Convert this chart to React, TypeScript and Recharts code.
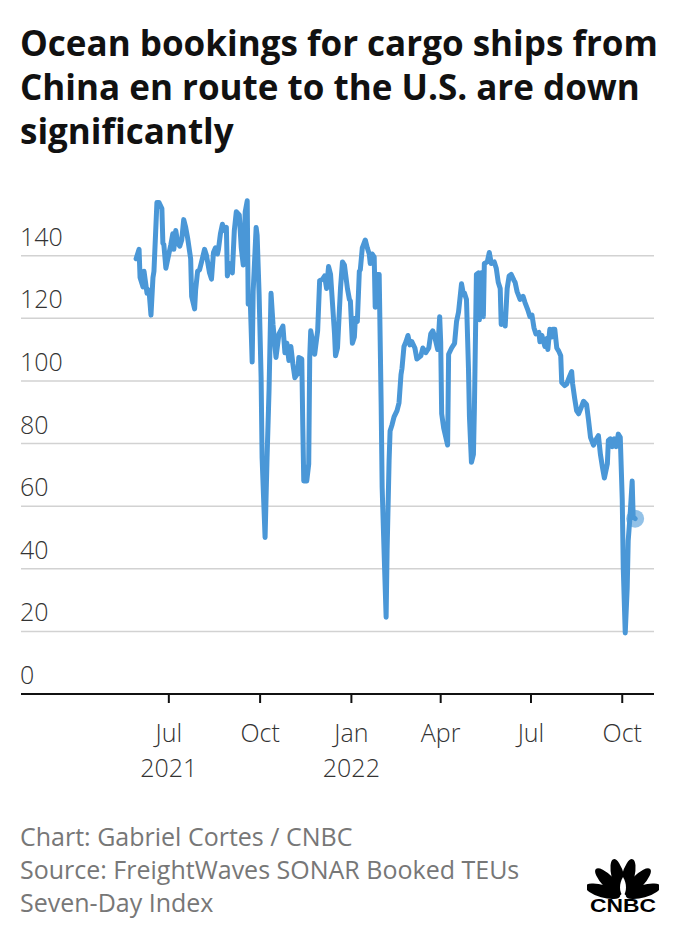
import { LineChart, Line, XAxis, YAxis, CartesianGrid } from "recharts";

// Booked TEUs seven-day index, China -> U.S.
const START = Date.UTC(2021, 0, 1);
const DAY = 86400000;

// days since 2021-01-01
const bookingDays = [
  148, 151, 152, 155, 156, 159, 161, 163, 165, 166,
  169, 171, 174, 175, 176, 178, 180, 183, 185, 186,
  188, 190, 192, 194, 196, 198, 200, 203, 204, 207,
  208, 210, 212, 214, 217, 219, 222, 224, 226, 228,
  230, 231, 233, 235, 237, 239, 240, 242, 245, 247,
  249, 252, 254, 256, 258, 260, 261, 263, 265, 266,
  269, 270, 272, 274, 275, 278, 280, 282, 284, 286,
  289, 292, 296, 298, 300, 302, 304, 306, 308, 311,
  312, 315, 316, 317, 320, 322, 323, 324, 326, 328,
  331, 333, 336, 338, 340, 342, 344, 346, 348, 349,
  351, 354, 356, 358, 361, 363, 364, 366, 368, 369,
  371, 373, 374, 376, 379, 381, 383, 384, 386, 388,
  389, 391, 393, 395, 396, 398, 400, 401, 403, 404,
  406, 408, 411, 413, 415, 416, 418, 420, 422, 424,
  426, 429, 431, 435, 437, 440, 443, 445, 447, 449,
  452, 454, 455, 456, 458, 462, 463, 466, 469, 471,
  473, 476, 478, 479, 481, 483, 484, 486, 488, 489,
  491, 493, 494, 496, 498, 499, 502, 504, 506, 509,
  511, 513, 515, 516, 519, 520, 522, 524, 526, 529,
  530, 532, 535, 538, 540, 543, 545, 547, 549, 551,
  554, 555, 557, 560, 562, 563, 565, 567, 568, 570,
  572, 574, 576, 577, 580, 582, 585, 587, 588, 590,
  592, 594, 596, 599, 602, 604, 606, 609, 612, 614,
  616, 618, 620, 623, 624, 626, 628, 630, 632, 634,
  636, 638, 639, 641, 643, 644, 646, 648, 649, 651,
];

const bookingIndex = [
  139, 142, 133, 130, 135, 128, 129, 121, 133, 135,
  157, 157, 155, 144, 143.5, 136, 139, 143.5, 147, 142,
  148, 144, 143, 145, 151.5, 149, 145.5, 139, 127, 123,
  129, 135, 135.5, 138, 142, 140, 134.5, 132.5, 141, 142.5,
  140.5, 142, 147, 150, 148, 149, 133.5, 137.5, 134.5, 148,
  154, 153, 142.5, 137, 154, 157.5, 124.5, 126.5, 106, 128.5,
  149, 146.5, 127.5, 101, 75.5, 50, 75.5, 97, 128, 118,
  107.5, 115, 117.5, 109, 112, 106.5, 111, 105.5, 101, 102.5,
  107.5, 107, 86, 68, 68, 73.5, 107.5, 116, 112.5, 108.5,
  116, 132, 132.5, 133.5, 129.5, 136.5, 134, 124.5, 115, 108,
  110.5, 129.5, 138, 137, 129.5, 126, 125.5, 112, 114, 120,
  119, 135, 135.5, 142.5, 145, 142.5, 140.5, 137.5, 140.5, 139.5,
  123.5, 134, 134, 92.5, 66, 45, 24.5, 46, 74.5, 84,
  86, 88.5, 90.5, 93, 102, 104, 111, 112.5, 114.5, 111.5,
  112.5, 110.5, 107, 108, 110.5, 109, 110.5, 115, 116, 114,
  110, 120.5, 112.5, 89.5, 85, 79.5, 108.5, 110.5, 112, 119,
  122, 131, 127.5, 128, 126, 104, 88.5, 74, 76.5, 91.5,
  134, 134.5, 119.5, 134.5, 120.5, 137.5, 138, 141, 137.5, 138,
  136, 131.5, 129.5, 118, 119, 117.5, 129.5, 133.5, 134, 132,
  131.5, 128.5, 126, 127, 125, 122.5, 120.5, 121, 117, 115,
  115.5, 112.5, 114.5, 111, 113.5, 110, 116.5, 114, 116.5, 116.5,
  110.5, 109.5, 108, 99.5, 98.5, 99, 101.5, 103, 99, 94.5,
  90.5, 89.5, 91, 93.5, 92.5, 87.5, 82, 79.5, 81.5, 82.5,
  76.5, 72.5, 69, 73.5, 81, 81.5, 79, 81.5, 79, 83,
  82, 62, 40.5, 19.5, 34, 49, 57.5, 68, 56.5, 56,
];

const yTicks = [0, 20, 40, 60, 80, 100, 120, 140];
const xTickDays = [181, 273, 365, 455, 546, 638];
const xTickMonths = ["Jul", "Oct", "Jan", "Apr", "Jul", "Oct"];
const xTickYears = ["2021", "", "2022", "", "", ""];

const titleLines = [
  "Ocean bookings for cargo ships from",
  "China en route to the U.S. are down",
  "significantly",
];
const footerLines = [
  "Chart: Gabriel Cortes / CNBC",
  "Source: FreightWaves SONAR Booked TEUs",
  "Seven-Day Index",
];

const data = bookingDays.map((d, i) => ({ t: START + d * DAY, value: bookingIndex[i] }));

const BLUE = "#4a97d7";
const FONT = "'Open Sans', Roboto, sans-serif";
const LEFT = 20;

const YTick = (props: any) => {
  const { y, payload } = props;
  return (
    <text x={LEFT} y={y - 10} fill="#333" fontSize={25} fontFamily={FONT} fontWeight={300} textAnchor="start">
      {payload.value}
    </text>
  );
};

const XTick = (props: any) => {
  const { x, y, payload } = props;
  const i = xTickDays.indexOf(Math.round((payload.value - START) / DAY));
  return (
    <g>
      <text x={x} y={y + 37} fill="#333" fontSize={25} fontFamily={FONT} fontWeight={300} textAnchor="middle">
        {xTickMonths[i]}
      </text>
      {xTickYears[i] && (
        <text x={x} y={y + 72} fill="#333" fontSize={25} fontFamily={FONT} fontWeight={300} textAnchor="middle">
          {xTickYears[i]}
        </text>
      )}
    </g>
  );
};

const EndDot = (props: any) => {
  if (props.index !== data.length - 1) return <g key={`d${props.index}`} />;
  return <circle key="end" cx={props.cx} cy={props.cy} r={9} fill={BLUE} fillOpacity={0.6} />;
};

const CnbcLogo = () => {
  const angles = [-74, -44, -14, 14, 44, 74];
  return (
    <svg width={72} height={72} viewBox="0 0 72 72">
      {angles.map((a) => (
        <ellipse key={a} cx={36} cy={25} rx={6.3} ry={18} fill="#000" transform={`rotate(${a} 36 46)`} />
      ))}
      <path d="M36 26 C32 33 32 40 36 46 C40 40 40 33 36 26 Z" fill="#fff" />
      <text x={36} y={61} textAnchor="middle" fontFamily="'Liberation Sans', Arial, sans-serif" fontWeight={700} fontSize={18} textLength={66} lengthAdjust="spacingAndGlyphs" fill="#000">
        CNBC
      </text>
    </svg>
  );
};

export default function App() {
  return (
    <div style={{ position: "absolute", left: 0, top: 0, width: 676, height: 940, background: "#fff", fontFamily: FONT }}>
      <div style={{ position: "absolute", left: 20, top: 21, fontSize: 35, fontWeight: 700, lineHeight: "44px", color: "#111" }}>
        {titleLines.map((l) => (
          <div key={l} style={{ whiteSpace: "nowrap" }}>{l}</div>
        ))}
      </div>
      <div style={{ position: "absolute", left: 0, top: 0 }}>
        <LineChart width={676} height={800} data={data} margin={{ top: 193, right: 22, bottom: 46, left: LEFT }}>
          <CartesianGrid vertical={false} horizontalValues={yTicks} stroke="#d2d2d2" strokeWidth={1.5} />
          <XAxis
            type="number"
            dataKey="t"
            domain={[START + 32 * DAY, START + 670 * DAY]}
            ticks={xTickDays.map((d) => START + d * DAY)}
            interval={0}
            tick={XTick}
            tickSize={9}
            height={60}
            axisLine={{ stroke: "#111", strokeWidth: 2 }}
            tickLine={{ stroke: "#111", strokeWidth: 2 }}
            allowDataOverflow
          />
          <YAxis
            type="number"
            domain={[0, 160]}
            ticks={yTicks}
            interval={0}
            width={1}
            axisLine={false}
            tickLine={false}
            tick={YTick}
            allowDataOverflow
          />
          <Line
            type="linear"
            dataKey="value"
            stroke={BLUE}
            strokeWidth={5}
            strokeLinejoin="round"
            strokeLinecap="round"
            dot={EndDot}
            activeDot={false}
            isAnimationActive={false}
          />
        </LineChart>
      </div>
      <div style={{ position: "absolute", left: 20, top: 820, fontSize: 25, lineHeight: "33px", color: "#777" }}>
        {footerLines.map((l) => (
          <div key={l}>{l}</div>
        ))}
      </div>
      <div style={{ position: "absolute", left: 587, top: 851 }}>
        <CnbcLogo />
      </div>
    </div>
  );
}
